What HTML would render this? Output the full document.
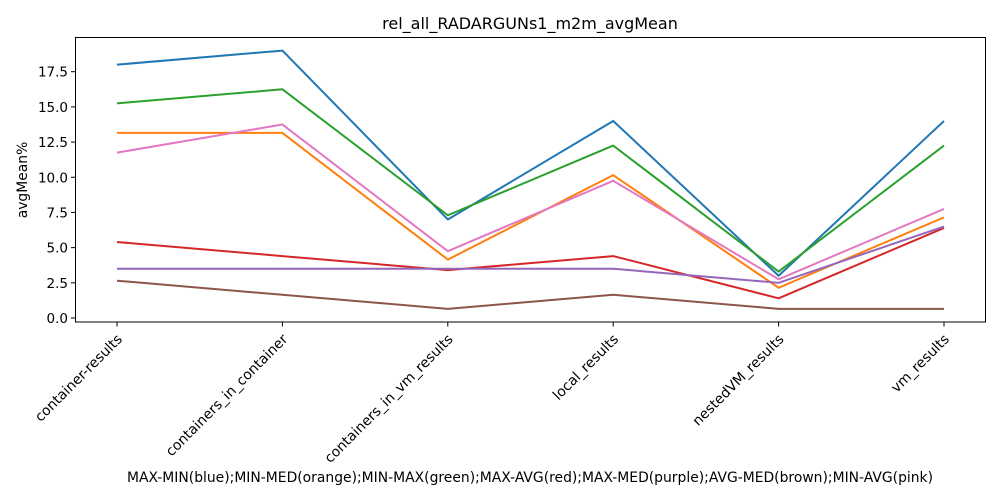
<!DOCTYPE html>
<html><head><meta charset="utf-8"><style>
body{margin:0;background:#fff;}
svg{display:block;font-family:"DejaVu Sans","Liberation Sans",sans-serif;}
</style></head><body>
<svg id="chart" width="1000" height="500" viewBox="0 0 1000 500" xmlns="http://www.w3.org/2000/svg">
<rect width="1000" height="500" fill="#fff"/>
<text x="530" y="29" font-size="16" text-anchor="middle">rel_all_RADARGUNs1_m2m_avgMean</text>
<g id="plot"></g>
<rect x="75.5" y="37.5" width="910" height="284.5" fill="none" stroke="#000" stroke-width="1"/>
<text transform="translate(27,180) rotate(-90)" font-size="13.9" text-anchor="middle">avgMean%</text>
<text x="530" y="482" font-size="13.9" text-anchor="middle">MAX-MIN(blue);MIN-MED(orange);MIN-MAX(green);MAX-AVG(red);MAX-MED(purple);AVG-MED(brown);MIN-AVG(pink)</text>
</svg>
<script>
const categories=["container-results","containers_in_container","containers_in_vm_results","local_results","nestedVM_results","vm_results"];
const yTicks=[0,2.5,5,7.5,10,12.5,15,17.5];
const yTickLabels=["0.0","2.5","5.0","7.5","10.0","12.5","15.0","17.5"];
const seriesNames=["MAX-MIN","MIN-MED","MIN-MAX","MAX-AVG","MAX-MED","AVG-MED","MIN-AVG"];
const seriesColors=["#1f77b4","#ff7f0e","#2ca02c","#d62728","#9467bd","#8c564b","#e377c2"];
const maxMin=[18,19,7,14,3,14];
const minMed=[13.15,13.15,4.15,10.15,2.15,7.15];
const minMax=[15.25,16.25,7.3,12.25,3.3,12.25];
const maxAvg=[5.4,4.4,3.4,4.4,1.4,6.4];
const maxMed=[3.5,3.5,3.5,3.5,2.5,6.5];
const avgMed=[2.65,1.65,0.65,1.65,0.65,0.65];
const minAvg=[11.75,13.75,4.75,9.75,2.75,7.75];
const allSeries=[maxMin,minMed,minMax,maxAvg,maxMed,avgMed,minAvg];

const NS="http://www.w3.org/2000/svg";
const g=document.getElementById('plot');
const x0=117,x1=944,yBase=318,pxPerUnit=(318-71.7)/17.5;
function xScale(i){return x0+(x1-x0)*i/(categories.length-1);}
function yScale(v){return yBase-v*pxPerUnit;}
function mk(tag,attrs){const e=document.createElementNS(NS,tag);for(const k in attrs)e.setAttribute(k,attrs[k]);return e;}

yTicks.forEach((t,i)=>{
  const y=yScale(t);
  const l=mk('line',{x1:75.5,x2:71,y1:y,y2:y,stroke:'#000'});
  
  
  g.appendChild(l);
  const tx=mk('text',{x:68,y:y+5,'font-size':13.5,'text-anchor':'end'});
  
  
  tx.textContent=yTickLabels[i];g.appendChild(tx);
});
categories.forEach((c,i)=>{
  const x=xScale(i);
  const l=mk('line',{x1:x,x2:x,y1:322,y2:326.5,stroke:'#000'});
  
  
  g.appendChild(l);
  const tx=mk('text',{transform:`translate(${x+6},${340}) rotate(-45)`,'font-size':13.9,'text-anchor':'end'});
  
  
  tx.textContent=c;g.appendChild(tx);
});
allSeries.forEach((s,k)=>{
  const pts=s.map((v,i)=>xScale(i)+','+yScale(v)).join(' ');
  const p=mk('polyline',{points:pts,fill:'none',stroke:seriesColors[k],'stroke-width':2,'stroke-linejoin':'round'});
  
  
  g.appendChild(p);
});
</script>
</body></html>
